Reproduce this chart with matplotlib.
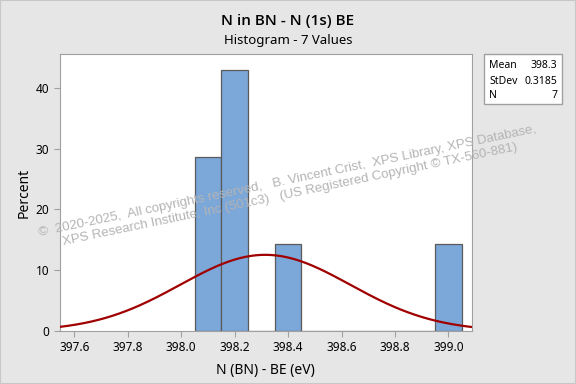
import numpy as np
import matplotlib
matplotlib.use("Agg")
import matplotlib.pyplot as plt
from matplotlib.patches import Rectangle

# N (1s) binding energies, eV
values = [398.1, 398.1, 398.2, 398.2, 398.2, 398.4, 399.0]
bin_edges = [398.05, 398.15, 398.25, 398.35, 398.45, 398.55, 398.65,
             398.75, 398.85, 398.95, 399.05]
xticks = [397.6, 397.8, 398.0, 398.2, 398.4, 398.6, 398.8, 399.0]
yticks = [0, 10, 20, 30, 40]
stat_names = ["Mean", "StDev", "N"]
stat_vals = ["398.3", "0.3185", "7"]

bg = "#e6e6e6"
plt.rcParams["font.family"] = ["Noto Sans", "DejaVu Sans"]

fig = plt.figure(figsize=(5.76, 3.84), dpi=100, facecolor=bg)
fig.patches.append(Rectangle((0, 0), 1, 1, transform=fig.transFigure,
                             fill=False, edgecolor="#c8c8c8", lw=1.5))
ax = fig.add_axes([0.1035, 0.138, 0.7155, 0.7206])

vals = np.array(values)
n = len(vals)
ax.hist(vals, bins=bin_edges, weights=np.full(n, 100.0 / n),
        color="#7ba7d9", edgecolor="#5a5a5a", linewidth=0.9, zorder=2)

mu = vals.mean()
sd = vals.std(ddof=1)
bw = bin_edges[1] - bin_edges[0]
xs = np.linspace(397.545, 399.087, 300)
ys = 100 * bw * np.exp(-0.5 * ((xs - mu) / sd) ** 2) / (sd * np.sqrt(2 * np.pi))
ax.plot(xs, ys, color="#a00000", lw=1.6, zorder=3)

ax.set_xlim(397.545, 399.087)
ax.set_ylim(0, 45.5)
ax.set_xticks(xticks)
ax.set_xticklabels([f"{t:.1f}" for t in xticks])
ax.set_yticks(yticks)
for s in ax.spines.values():
    s.set_color("#a0a0a0")
ax.tick_params(colors="#a0a0a0", labelcolor="black", labelsize=8.5, length=4)
ax.set_xlabel("N (BN) - BE (eV)", fontsize=10, labelpad=6)
ax.set_ylabel("Percent", fontsize=10, labelpad=3)

fig.text(0.5, 0.945, "N in BN - N (1s) BE", ha="center", va="center",
         fontsize=11, fontweight="semibold", family=["Open Sans", "Noto Sans"])
fig.text(0.5, 0.895, "Histogram - 7 Values", ha="center", va="center",
         fontsize=9.5)

# stats box
fig.patches.append(Rectangle((484 / 576, 1 - 104 / 384), 78 / 576, 50 / 384,
                             transform=fig.transFigure, facecolor="white",
                             edgecolor="#a0a0a0", lw=1))
for i, (nm, v) in enumerate(zip(stat_names, stat_vals)):
    yy = 1 - (66 + i * 15) / 384
    fig.text(489 / 576, yy, nm, fontsize=7.5, va="center", ha="left")
    fig.text(557 / 576, yy, v, fontsize=7.5, va="center", ha="right")

wm = ("©  2020-2025,  All copyrights reserved,   B. Vincent Crist,  XPS Library, XPS Database,\n"
      "XPS Research Institute, Inc (501c3)   (US Registered Copyright © TX-560-881)")
fig.text(289 / 576, 1 - 188 / 384, wm, ha="center", va="center", rotation=11.8,
         fontsize=9.5, color="#b4b4b4", family=["Liberation Sans", "DejaVu Sans"],
         linespacing=1.2, rotation_mode="anchor", zorder=10)

fig.savefig("out.png", dpi=100, facecolor=bg)
